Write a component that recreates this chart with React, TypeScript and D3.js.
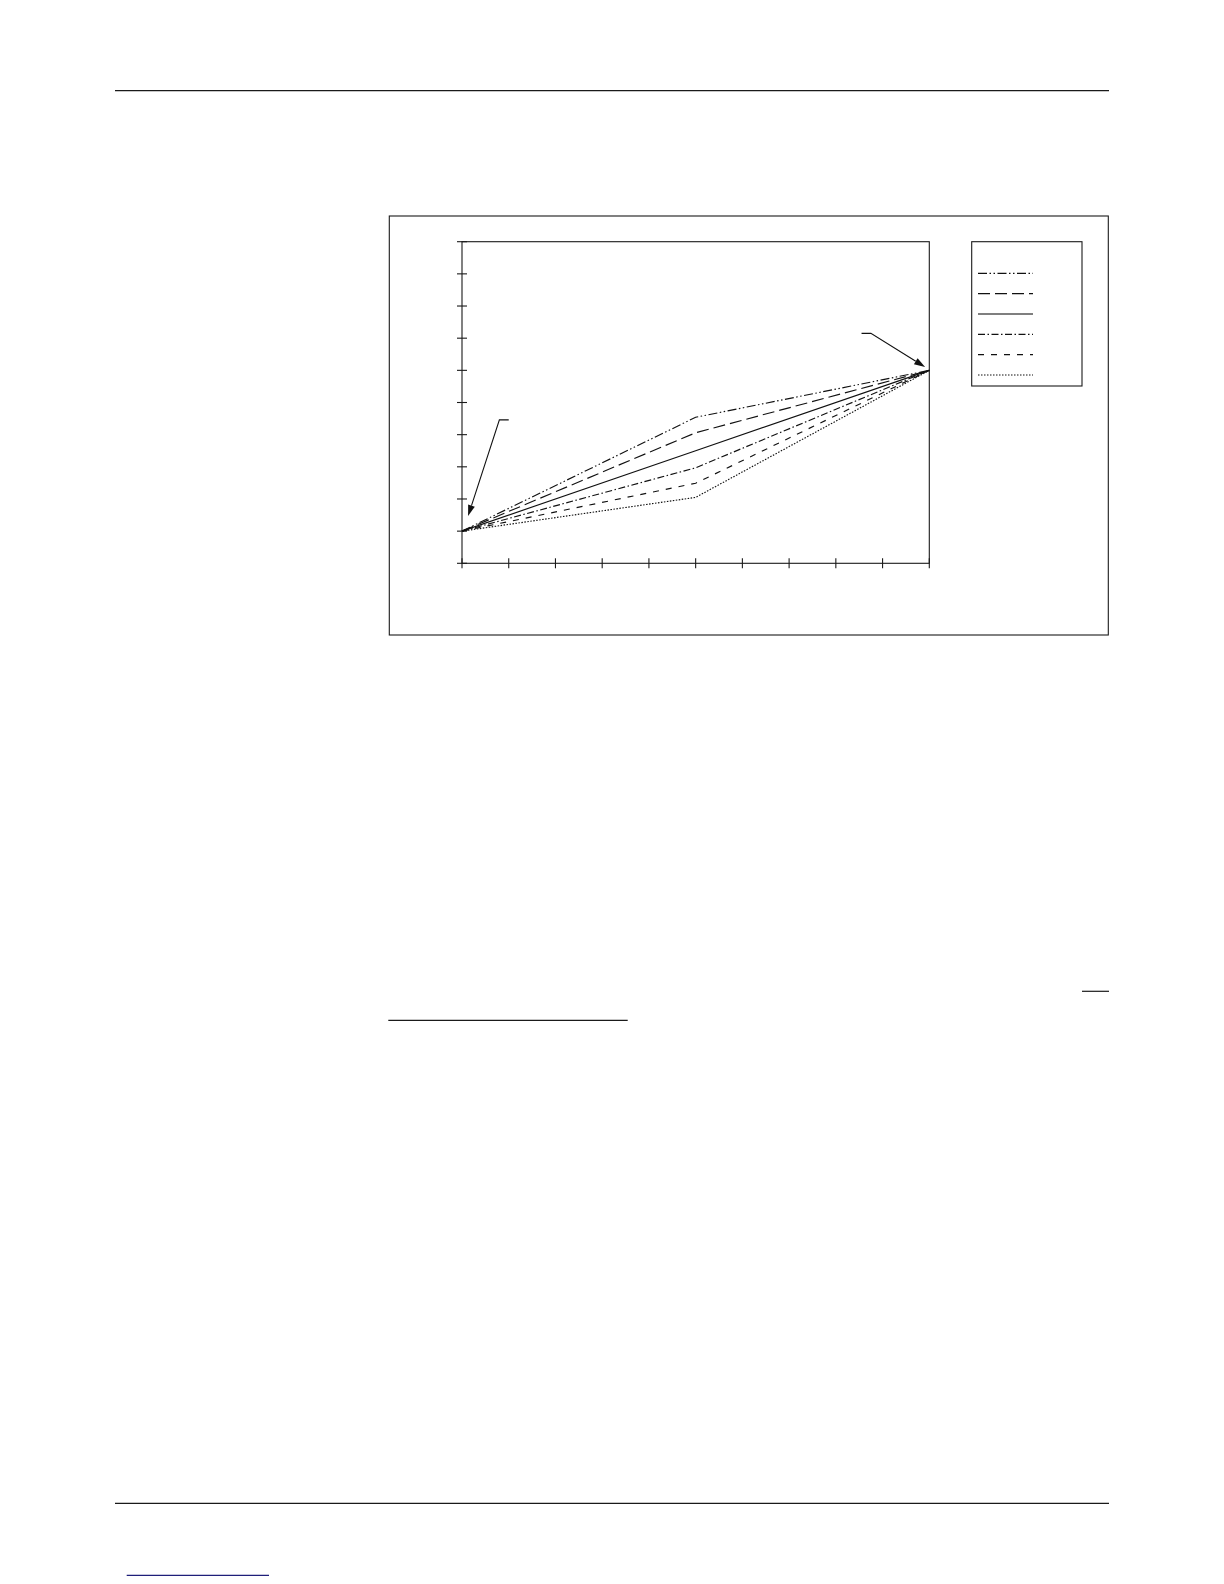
import React from "react";
import * as d3 from "d3";

const xValues = [0, 5, 10];
const seriesNames = ["A", "B", "C", "D", "E", "F"];
const seriesA = [1, 4.54, 6];
const seriesB = [1, 4.06, 6];
const seriesC = [1, 3.5, 6];
const seriesD = [1, 2.97, 6];
const seriesE = [1, 2.49, 6];
const seriesF = [1, 2.05, 6];
const dashes = ["9,2.5,1.5,2.5,1.5,2.5", "12,5", "none", "7,2.5,1.5,2.5", "6,7", "1.5,1.5"];
const xTicks = [0, 1, 2, 3, 4, 5, 6, 7, 8, 9, 10];
const yTicks = [0, 1, 2, 3, 4, 5, 6, 7, 8, 9, 10];
// annotation arrows in data units: [elbowX, tailX, tailY, tipX, tipY]
const arrowStart = [1.0, 0.8, 4.46, 0.13, 1.47];
const arrowEnd = [8.55, 8.75, 7.15, 9.91, 6.1];

const W = 1224;
const H = 1584;
const plot = { left: 462, right: 929.3, top: 241.7, bottom: 563.3 };

function Arrow({ pts }: { pts: [number, number][] }) {
  const [e, t, tip] = pts;
  const ang = Math.atan2(tip[1] - t[1], tip[0] - t[0]);
  const L = 11, Wd = 3.5;
  const bx = tip[0] - L * Math.cos(ang);
  const by = tip[1] - L * Math.sin(ang);
  const p1 = [bx + Wd * Math.sin(ang), by - Wd * Math.cos(ang)];
  const p2 = [bx - Wd * Math.sin(ang), by + Wd * Math.cos(ang)];
  return (
    <g>
      <path d={`M${e[0]},${e[1]}L${t[0]},${t[1]}L${bx},${by}`} fill="none" stroke="#111" strokeWidth={1.1} />
      <path d={`M${tip[0]},${tip[1]}L${p1[0]},${p1[1]}L${p2[0]},${p2[1]}Z`} fill="#111" />
    </g>
  );
}

export default function App() {
  const x = d3.scaleLinear().domain([0, 10]).range([plot.left, plot.right]);
  const y = d3.scaleLinear().domain([0, 10]).range([plot.bottom, plot.top]);
  const series = [seriesA, seriesB, seriesC, seriesD, seriesE, seriesF];
  const line = d3
    .line<number>()
    .x((_, i) => x(xValues[i]))
    .y((d) => y(d));

  const legend = { left: 971.7, top: 241.7, right: 1082, bottom: 386 };
  const legendY = d3.scaleLinear().domain([0, 5]).range([273.3, 375]);

  return (
    <svg
      width={W}
      height={H}
      style={{ position: "absolute", left: 0, top: 0, background: "#fff" }}
      fontFamily="Liberation Sans, Arial, sans-serif"
    >
      <rect x={0} y={0} width={W} height={H} fill="#fff" />
      {/* page rules */}
      <line x1={115} x2={1109} y1={90.7} y2={90.7} stroke="#1a1a1a" strokeWidth={1.3} />
      <line x1={115} x2={1109} y1={1503.3} y2={1503.3} stroke="#1a1a1a" strokeWidth={1.3} />
      <line x1={1082} x2={1109} y1={991.3} y2={991.3} stroke="#1a1a1a" strokeWidth={1.2} />
      <line x1={388.3} x2={627.7} y1={1020.3} y2={1020.3} stroke="#1a1a1a" strokeWidth={1.2} />
      <line x1={126.7} x2={269} y1={1575.3} y2={1575.3} stroke="#1f1f7a" strokeWidth={1.2} />

      {/* outer frame */}
      <rect x={389.3} y={216} width={1108.3 - 389.3} height={635 - 216} fill="none" stroke="#1a1a1a" strokeWidth={1.1} />

      {/* plot area */}
      <rect
        x={plot.left}
        y={plot.top}
        width={plot.right - plot.left}
        height={plot.bottom - plot.top}
        fill="none"
        stroke="#1a1a1a"
        strokeWidth={1.1}
      />
      {yTicks.map((t) => (
        <line key={"y" + t} x1={plot.left - 5} x2={plot.left + 5} y1={y(t)} y2={y(t)} stroke="#1a1a1a" strokeWidth={1.1} />
      ))}
      {xTicks.map((t) => (
        <line key={"x" + t} x1={x(t)} x2={x(t)} y1={plot.bottom - 5} y2={plot.bottom + 5} stroke="#1a1a1a" strokeWidth={1.1} />
      ))}

      {series.map((s, i) => (
        <path
          key={seriesNames[i]}
          d={line(s) || ""}
          fill="none"
          stroke="#111"
          strokeWidth={1.15}
          strokeDasharray={dashes[i]}
        />
      ))}

      <Arrow
        pts={[
          [x(arrowStart[0]), y(arrowStart[2])],
          [x(arrowStart[1]), y(arrowStart[2])],
          [x(arrowStart[3]), y(arrowStart[4])],
        ]}
      />
      <Arrow
        pts={[
          [x(arrowEnd[0]), y(arrowEnd[2])],
          [x(arrowEnd[1]), y(arrowEnd[2])],
          [x(arrowEnd[3]), y(arrowEnd[4])],
        ]}
      />

      {/* legend */}
      <rect
        x={legend.left}
        y={legend.top}
        width={legend.right - legend.left}
        height={legend.bottom - legend.top}
        fill="none"
        stroke="#1a1a1a"
        strokeWidth={1.1}
      />
      {seriesNames.map((n, i) => (
        <line
          key={"lg" + n}
          x1={978}
          x2={1033}
          y1={legendY(i)}
          y2={legendY(i)}
          stroke={i === 2 ? "#555" : "#111"}
          strokeWidth={i === 2 ? 1.4 : 1.2}
          strokeDasharray={dashes[i]}
        />
      ))}
    </svg>
  );
}
